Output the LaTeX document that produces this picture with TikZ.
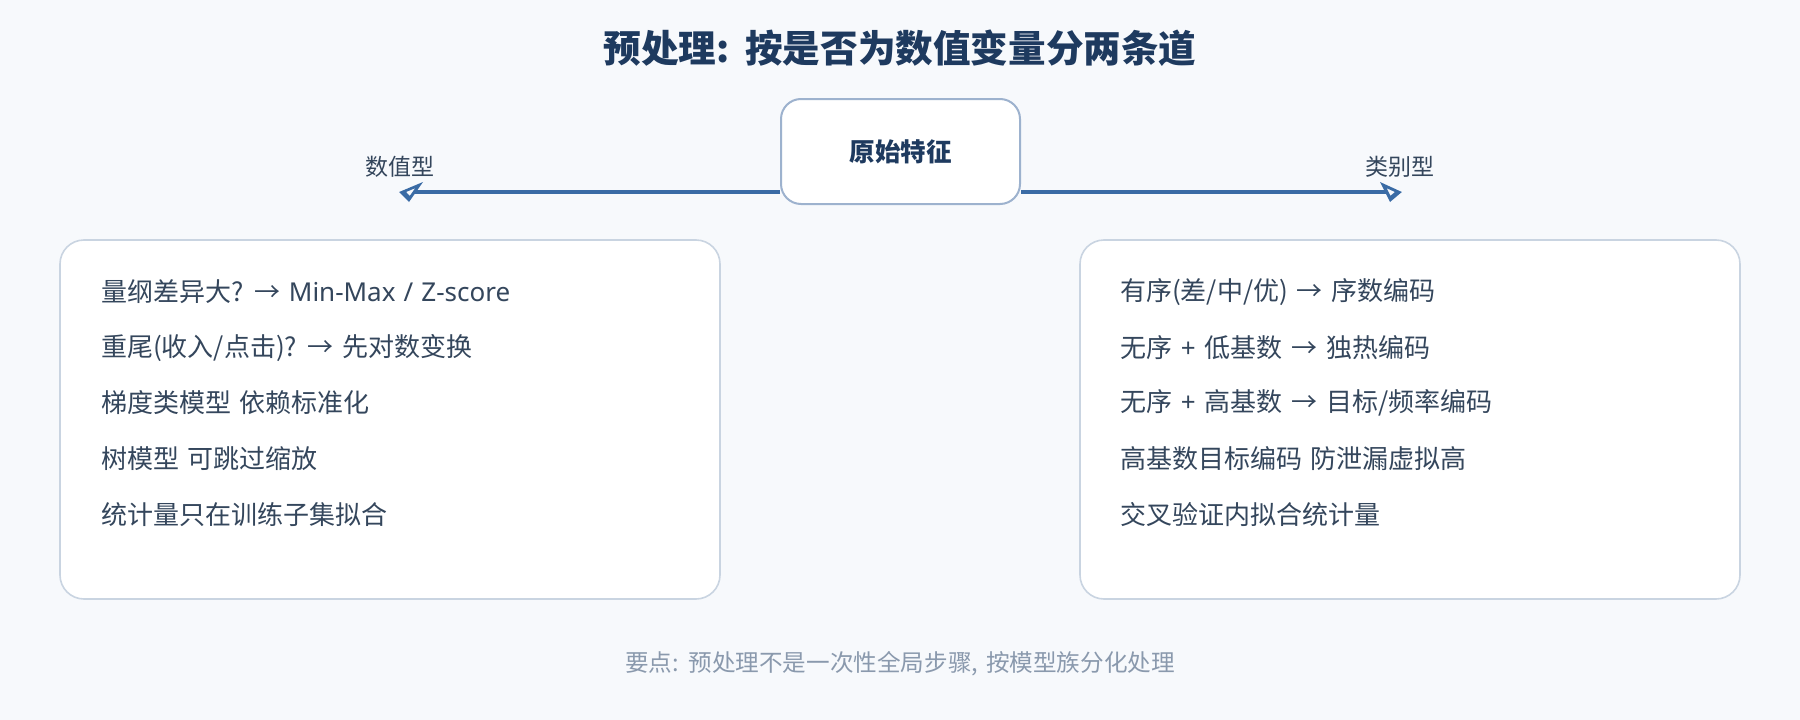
\documentclass[tikz,border=0pt]{standalone}
\usepackage{fontspec}
\setmainfont{Noto Sans CJK SC}[WordSpace=1.5]
\newfontfamily\lat{Noto Sans}[WordSpace=1.2]
\usetikzlibrary{arrows.meta}
\definecolor{bg}{HTML}{F7F9FC}
\definecolor{titlec}{HTML}{1E3A5F}
\definecolor{bodyc}{HTML}{34465C}
\definecolor{footc}{HTML}{8A99AD}
\definecolor{arrowc}{HTML}{3A6BA5}
\definecolor{rootb}{HTML}{9DB2CE}
\definecolor{cardb}{HTML}{C9D4E1}
\begin{document}
\begin{tikzpicture}[x=1pt,y=-1pt,
  titletext/.style={font=\fontsize{37.6}{42}\selectfont\bfseries, text=titlec, inner sep=0pt},
  rootbox/.style={draw=rootb, line width=2pt, fill=white, rounded corners=20pt, inner sep=0pt,
    minimum width=239pt, minimum height=105pt, font=\fontsize{25.5}{30}\selectfont\bfseries, text=titlec},
  card/.style={draw=cardb, line width=1.6pt, fill=white, rounded corners=24pt, inner sep=0pt,
    minimum width=660pt, minimum height=359pt},
  lbl/.style={font=\fontsize{23}{28}\selectfont, text=bodyc, inner sep=0pt},
  item/.style={font=\fontsize{26}{30}\selectfont, text=bodyc, inner sep=0pt, anchor=west},
  foot/.style={font=\fontsize{23.6}{28}\selectfont, text=footc, inner sep=0pt},
  conn/.style={draw=arrowc, line width=3.5pt},
  arrL/.style={-{Triangle[open, length=17pt, width=19pt, slant=0.7]}},
  arrR/.style={-{Triangle[open, length=17pt, width=19pt, slant=-0.5]}}
]
\fill[bg] (0,0) rectangle (1800,720);
\useasboundingbox (0,0) rectangle (1800,720);

\node[titletext] (title) at (900,48) {预处理: 按是否为数值变量分两条道};

\coordinate (tipL) at (399,192);
\coordinate (tipR) at (1402,192);
\node[rootbox] (root) at (900.5,151.5) {原始特征};
\draw[conn, arrL] (root.west |- tipL) -- (tipL);
\draw[conn, arrR] (root.east |- tipR) -- (tipR);

\node[lbl] (lblL) at (400,167) {数值型};
\node[lbl] (lblR) at (1400,167) {类别型};

\node[card] (cardL) at (390,419.5) {};
\node[card] (cardR) at (1410,419.5) {};

\node[item] (l1) at (101,292) {量纲差异大? → {\lat Min-Max / Z-score}};
\node[item] (l2) at (101,348) {重尾(收入/点击)? → 先对数变换};
\node[item] (l3) at (101,403) {梯度类模型 依赖标准化};
\node[item] (l4) at (101,459) {树模型 可跳过缩放};
\node[item] (l5) at (101,515) {统计量只在训练子集拟合};

\node[item] (r1) at (1120,292) {有序(差/中/优) → 序数编码};
\node[item] (r2) at (1120,348) {无序 {\lat +} 低基数 → 独热编码};
\node[item] (r3) at (1120,403) {无序 {\lat +} 高基数 → 目标/频率编码};
\node[item] (r4) at (1120,459) {高基数目标编码 防泄漏虚拟高};
\node[item] (r5) at (1120,515) {交叉验证内拟合统计量};

\node[foot] (footer) at (900,664) {要点: 预处理不是一次性全局步骤, 按模型族分化处理};
\end{tikzpicture}
\end{document}
